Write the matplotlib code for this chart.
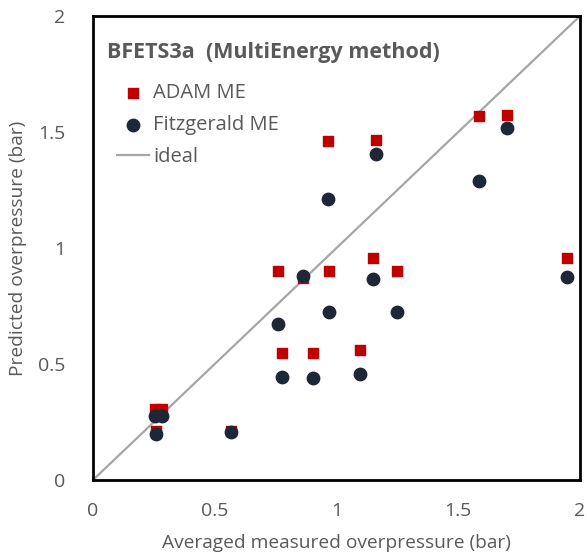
import numpy as np
import matplotlib.pyplot as plt

plt.rcParams['font.family'] = ['Open Sans', 'DejaVu Sans']

# ADAM ME (red squares)
adam_x = [0.255, 0.285, 0.259, 0.568, 0.761, 0.864, 0.970, 1.151, 1.248, 1.945,
          0.776, 0.902, 1.098, 0.966, 1.162, 1.586, 1.701]
adam_y = [0.306, 0.306, 0.210, 0.210, 0.901, 0.869, 0.902, 0.958, 0.902, 0.958,
          0.546, 0.546, 0.559, 1.461, 1.466, 1.569, 1.575]

# Fitzgerald ME (dark circles)
fitz_x = [0.255, 0.285, 0.259, 0.568, 0.761, 0.864, 0.970, 1.151, 1.248, 1.945,
          0.776, 0.902, 1.098, 0.966, 1.162, 1.586, 1.701]
fitz_y = [0.277, 0.277, 0.198, 0.207, 0.672, 0.879, 0.723, 0.866, 0.723, 0.876,
          0.444, 0.441, 0.457, 1.211, 1.405, 1.290, 1.517]

ideal = [0, 2]

txt = "#595959"

fig = plt.figure(figsize=(5.87, 5.53), dpi=100)
ax = fig.add_axes([0.1584, 0.132, 0.8296, 0.839])

ax.plot(ideal, ideal, color="#A6A6A6", lw=1.6, label="ideal", zorder=1)
ax.scatter(adam_x, adam_y, marker="s", s=58, color="#C00000", label="ADAM ME", zorder=2)
ax.scatter(fitz_x, fitz_y, marker="o", s=80, color="#1E2735", label="Fitzgerald ME", zorder=3)

ax.set_xlim(0, 2)
ax.set_ylim(0, 2)
ax.set_xticks([0, 0.5, 1, 1.5, 2])
ax.set_yticks([0, 0.5, 1, 1.5, 2])
ax.set_xticklabels(["0", "0.5", "1", "1.5", "2"])
ax.set_yticklabels(["0", "0.5", "1", "1.5", "2"])
ax.tick_params(length=0, labelsize=14, labelcolor=txt)
ax.tick_params(axis="x", pad=16)
ax.tick_params(axis="y", pad=20)

for s in ax.spines.values():
    s.set_color("black")
    s.set_linewidth(2)

ax.set_xlabel("Averaged measured overpressure (bar)", fontsize=13.8, color=txt, labelpad=10)
ax.set_ylabel("Predicted overpressure (bar)", fontsize=13.8, color=txt, labelpad=8)

ax.text(0.029, 0.922, "BFETS3a  (MultiEnergy method)", transform=ax.transAxes,
        fontsize=15.5, fontweight="bold", color=txt, va="center", ha="left")

h, l = ax.get_legend_handles_labels()
order = [1, 2, 0]
leg = ax.legend([h[i] for i in order], [l[i] for i in order],
                loc="upper left", bbox_to_anchor=(0.049, 0.855),
                frameon=False, fontsize=14.5, borderpad=0, borderaxespad=0,
                handlelength=1.6, handletextpad=0.2,
                labelspacing=0.6, labelcolor=txt)

fig.savefig("out.png", dpi=100)
